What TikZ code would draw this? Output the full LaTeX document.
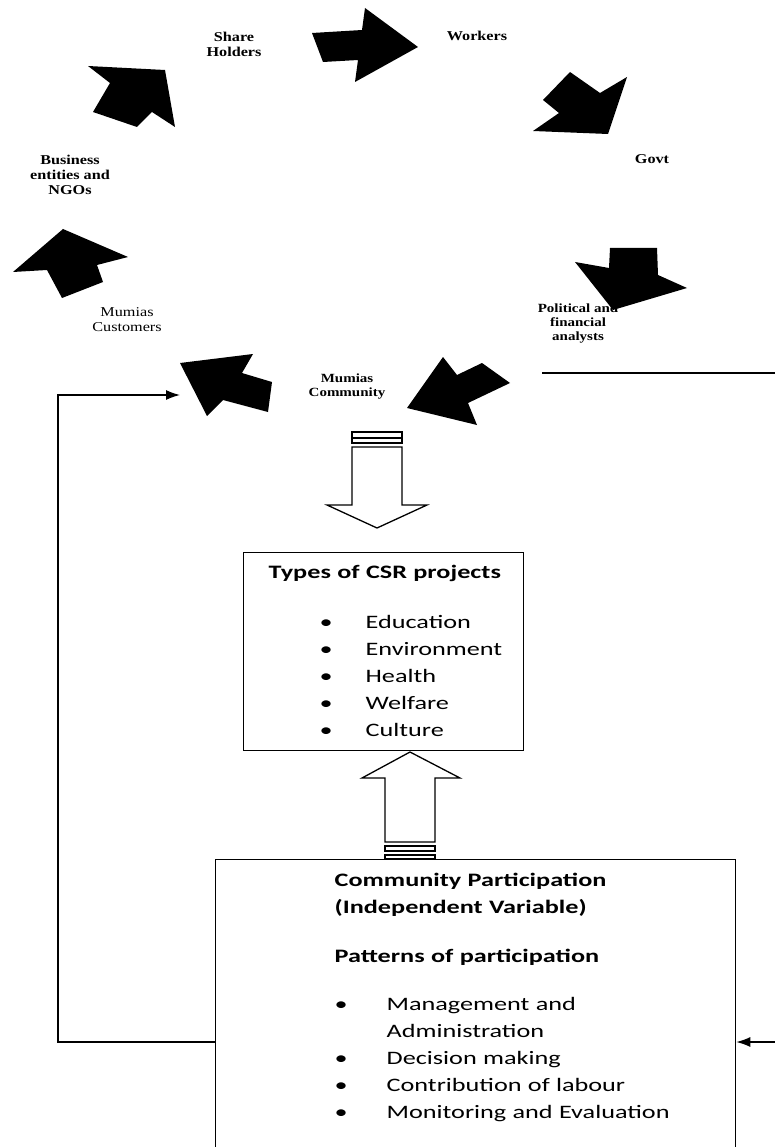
\documentclass[tikz,border=0pt]{standalone}
\usepackage{fontspec}
\usepackage{tikz}
\usetikzlibrary{arrows.meta}
\newfontfamily\actorfont[FakeStretch=1.2]{Liberation Serif}
\newfontfamily\boxfont[FakeStretch=1.38]{Carlito}

\begin{document}
\begin{tikzpicture}[x=1pt,y=-1pt,
  actor/.style={font=\actorfont\bfseries\fontsize{13.5}{15}\selectfont, align=center, inner sep=0pt},
  blockarrow/.style={fill=black},
  hollowarrow/.style={draw=black, fill=white, line width=1.3pt},
  box/.style={draw=black, line width=1.3pt, inner xsep=0pt, align=left, font=\boxfont\fontsize{19}{27}\selectfont},
  link/.style={draw=black, line width=1.3pt, -{Latex[length=14pt,width=10pt]}}]
\useasboundingbox (0,0) rectangle (775,1147);
\clip (0,0) rectangle (775,1147);
\node[actor] (share) at (234,44) {Share\\Holders};
\node[actor] (workers) at (477,36) {Workers};
\node[actor] (govt) at (652,159) {Govt};
\node[actor, font=\actorfont\bfseries\fontsize{12.5}{14}\selectfont] (polit) at (578,324) {Political and\\financial\\analysts};
\node[actor, font=\actorfont\bfseries\fontsize{12.5}{14}\selectfont] (comm) at (347,387) {Mumias\\Community};
\node[actor, font=\actorfont\fontsize{13.5}{15}\selectfont] (cust) at (127,320) {Mumias\\Customers};
\node[actor] (biz) at (70,175) {Business\\entities and\\NGOs};
\fill[blockarrow] (88,66) -- (165,70) -- (175,127) -- (152,112) -- (137,127) -- (93,112) -- (110,83) -- cycle;
\fill[blockarrow] (312,33) -- (362,30) -- (365,8) -- (418,47) -- (355,82) -- (358,60) -- (323,62) -- cycle;
\fill[blockarrow] (570,72) -- (600,93) -- (627,77) -- (608,134) -- (533,131) -- (559,113) -- (543,100) -- cycle;
\fill[blockarrow] (610,248) -- (657,248) -- (658,275) -- (687,288) -- (613,310) -- (575,262) -- (609,268) -- cycle;
\fill[blockarrow] (407,408) -- (443,357) -- (457,375) -- (482,363) -- (510,383) -- (468,403) -- (477,425) -- cycle;
\fill[blockarrow] (180,363) -- (253,354) -- (242,373) -- (272,382) -- (268,412) -- (223,400) -- (207,416) -- cycle;
\fill[blockarrow] (63,229) -- (128,257) -- (97,265) -- (103,282) -- (62,298) -- (47,270) -- (13,272) -- cycle;
\draw[hollowarrow] (352,432) rectangle (402,438);
\draw[hollowarrow] (352,438) rectangle (402,443);
\draw[hollowarrow] (352,447) -- (402,447) -- (402,505) -- (427,505) -- (377,528) -- (327,505) -- (352,505) -- cycle;
\draw[hollowarrow] (410,752) -- (460,778) -- (435,778) -- (435,842) -- (385,842) -- (385,778) -- (362,778) -- cycle;
\draw[hollowarrow] (385,846) rectangle (435,851);
\draw[hollowarrow] (385,855) rectangle (435,859);
\node[box, anchor=north west, text width=280, minimum height=198, inner ysep=0pt] (types) at (243,552) {%
\begin{tabular}{@{\hspace{25pt}}l@{}}
\textbf{Types of CSR projects}\\[23pt]
\hspace*{51pt}\makebox[46pt][l]{\textbullet}Education\\
\hspace*{51pt}\makebox[46pt][l]{\textbullet}Environment\\
\hspace*{51pt}\makebox[46pt][l]{\textbullet}Health\\
\hspace*{51pt}\makebox[46pt][l]{\textbullet}Welfare\\
\hspace*{51pt}\makebox[46pt][l]{\textbullet}Culture
\end{tabular}};
\node[box, anchor=north west, text width=520, inner ysep=8pt] (partic) at (215,859) {%
\begin{tabular}{@{\hspace{119pt}}l@{}}
\textbf{Community Participation}\\
\textbf{(Independent Variable)}\\[22pt]
\textbf{Patterns of participation}\\[21pt]
\makebox[52pt][l]{\textbullet}Management and\\
\hspace*{52pt}Administration\\
\makebox[52pt][l]{\textbullet}Decision making\\
\makebox[52pt][l]{\textbullet}Contribution of labour\\
\makebox[52pt][l]{\textbullet}Monitoring and Evaluation\\[30pt]
\end{tabular}};
\coordinate (custin) at (180,395);
\coordinate (politout) at (542,373);
\draw[link] ([yshift=-183pt]partic.north west) -| (58,395) -- (custin);
\draw[link] (politout) -- (778,373) |- ([yshift=-183pt]partic.north east);
\end{tikzpicture}
\end{document}
